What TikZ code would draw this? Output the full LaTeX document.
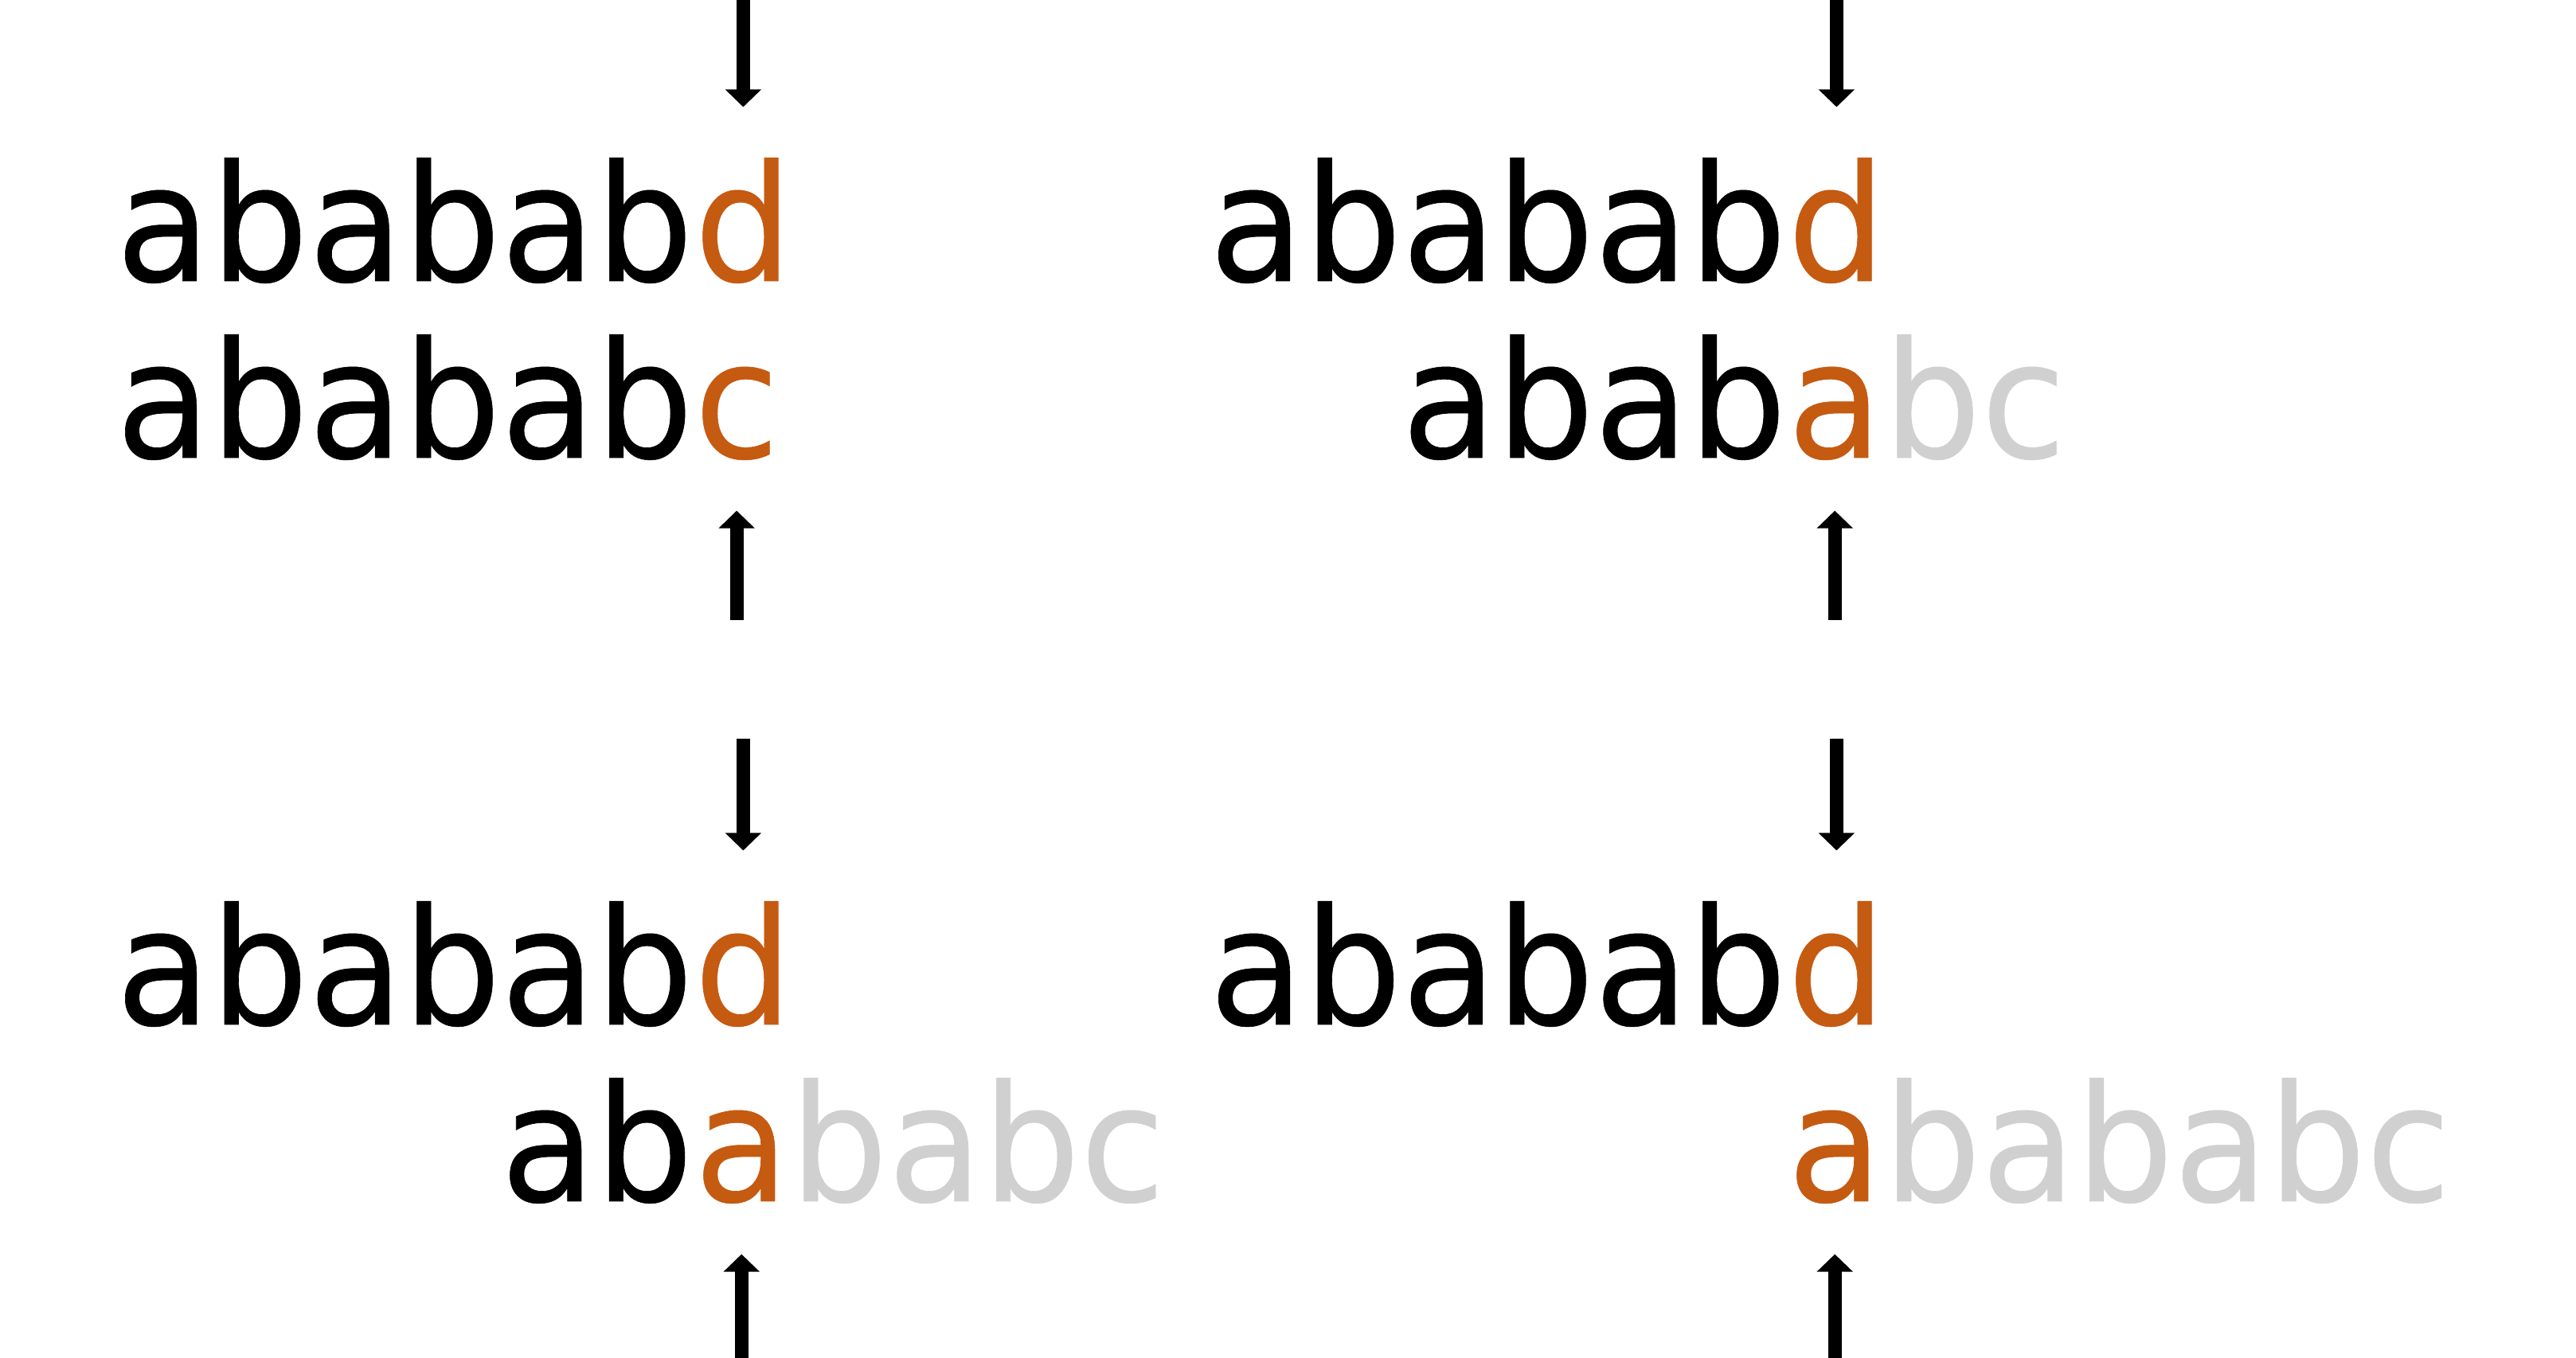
\documentclass[tikz,border=0pt]{standalone}
\usepackage{fontspec}
\setmainfont{DejaVu Sans}[FakeStretch = 0.95, FakeBold = 0.3]
\usetikzlibrary{arrows.meta, positioning}
\definecolor{hit}{HTML}{C55A11}
\definecolor{skip}{HTML}{D0D0D0}

\begin{document}
\begin{tikzpicture}[node distance = 0pt]
        \tikzstyle{str} = [inner sep = 0pt, font = \fontsize{58pt}{62pt}\selectfont]
        \tikzstyle{match} = [str, text = hit]
        \tikzstyle{rest} = [str, text = skip]
        \tikzstyle{pointer} = [line width = 1.7mm, -{Triangle[width = 4.4mm, length = 2.2mm]}, shorten > = 6.3mm]
        \useasboundingbox (0,0) rectangle (32.35,17.06);
        % top left
        \node[str, anchor = base west] (tlt) at (1.45,13.53) {ababab};
        \node[match, base right = of tlt] (tltc) {d};
        \node[match, anchor = base west] (tlpc) at ([yshift = -2.22cm]tltc.base west) {c};
        \node[str, base left = of tlpc] (tlp) {ababab};
        % top right
        \node[str, anchor = base west] (trt) at (15.18,13.53) {ababab};
        \node[match, base right = of trt] (trtc) {d};
        \node[match, anchor = base west] (trpc) at ([yshift = -2.22cm]trtc.base west) {a};
        \node[str, base left = of trpc] (trp) {abab};
        \node[rest, base right = of trpc] (trps) {bc};
        % bottom left
        \node[str, anchor = base west] (blt) at (1.45,4.19) {ababab};
        \node[match, base right = of blt] (bltc) {d};
        \node[match, anchor = base west] (blpc) at ([yshift = -2.22cm]bltc.base west) {a};
        \node[str, base left = of blpc] (blp) {ab};
        \node[rest, base right = of blpc] (blps) {babc};
        % bottom right
        \node[str, anchor = base west] (brt) at (15.18,4.19) {ababab};
        \node[match, base right = of brt] (brtc) {d};
        \node[match, anchor = base west] (brpc) at ([yshift = -2.22cm]brtc.base west) {a};
        \node[rest, base right = of brpc] (brps) {bababc};
        % pointers
        \coordinate (tlin) at ([yshift = 2.03cm]tltc.north);
        \coordinate (tlout) at ([yshift = -2.0cm]tlpc.south);
        \coordinate (trin) at ([yshift = 2.03cm]trtc.north);
        \coordinate (trout) at ([yshift = -2.0cm]trpc.south);
        \coordinate (blin) at ([yshift = 2.03cm]bltc.north);
        \coordinate (blout) at ([yshift = -2.0cm]blpc.south);
        \coordinate (brin) at ([yshift = 2.03cm]brtc.north);
        \coordinate (brout) at ([yshift = -2.0cm]brpc.south);
        \draw[pointer] (tlin) -- (tltc);
        \draw[pointer] (tlout) -- (tlpc);
        \draw[pointer] (trin) -- (trtc);
        \draw[pointer] (trout) -- (trpc);
        \draw[pointer] (blin) -- (bltc);
        \draw[pointer] (blout) -- (blpc);
        \draw[pointer] (brin) -- (brtc);
        \draw[pointer] (brout) -- (brpc);
\end{tikzpicture}
\end{document}
